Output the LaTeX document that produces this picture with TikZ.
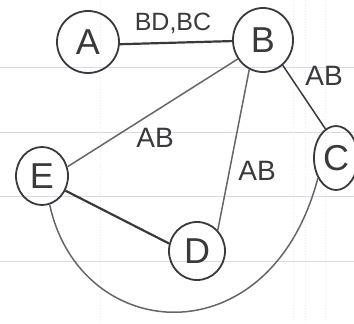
\documentclass[tikz,border=0pt]{standalone}
\usepackage{fontspec}
\setmainfont{Liberation Sans}
\usetikzlibrary{shapes.geometric}
\definecolor{ink}{HTML}{3A3A3A}
\definecolor{inkl}{HTML}{666666}
\definecolor{rule}{HTML}{D6D8EE}
\definecolor{vrule}{HTML}{ECEDF7}
\tikzset{
  vert/.style={draw=ink, line width=1.8pt, ellipse, inner sep=0pt, font=\fontsize{36}{36}\selectfont, text=ink},
  heavy/.style={draw=ink, line width=2.2pt},
  light/.style={draw=inkl, line width=1.5pt},
  elabel/.style={font=\fontsize{28}{28}\selectfont, text=ink, inner sep=0pt},
  paper/.style={draw=rule, line width=0.7pt},
  vpaper/.style={draw=vrule, line width=0.7pt, dotted}
}
\begin{document}
\begin{tikzpicture}[x=1pt,y=1pt]
\fill[white] (0,0) rectangle (354,-324);
\useasboundingbox (0,0) rectangle (354,-324);
% paper rulings
\foreach \yy in {67,132,196,261} \draw[paper] (0,-\yy) -- (354,-\yy);
\foreach \xx in {100,293,305,325} \draw[vpaper] (\xx,0) -- (\xx,-324);
% vertices
\node[vert, minimum width=62pt, minimum height=62pt] (A) at (88,-42) {A};
\node[vert, minimum width=60pt, minimum height=64pt] (B) at (263,-40) {B};
\node[vert, minimum width=44pt, minimum height=64pt] (C) at (336,-158) {C};
\node[vert, minimum width=52pt, minimum height=58pt] (E) at (42,-176) {E};
\node[vert, minimum width=56pt, minimum height=58pt] (D) at (197,-251) {D};
% edges
\draw[heavy] (A.356) -- (B.182);
\draw[light] (B.217) -- (E.20);
\draw[light] (B.245) -- (D.45);
\draw[light, draw=ink] (B.308) -- (C.110);
\draw[heavy] (E.328) -- (D.165);
\draw[light] (E.285) .. controls (80,-345) and (270,-360) .. (C.228);
% edge labels
\node[elabel, font=\fontsize{25}{25}\selectfont] (lab1) at (173,-23) {BD,BC};
\node[elabel] (lab2) at (155,-138) {AB};
\node[elabel] (lab3) at (257,-171) {AB};
\node[elabel] (lab4) at (324,-76) {AB};
\end{tikzpicture}
\end{document}
